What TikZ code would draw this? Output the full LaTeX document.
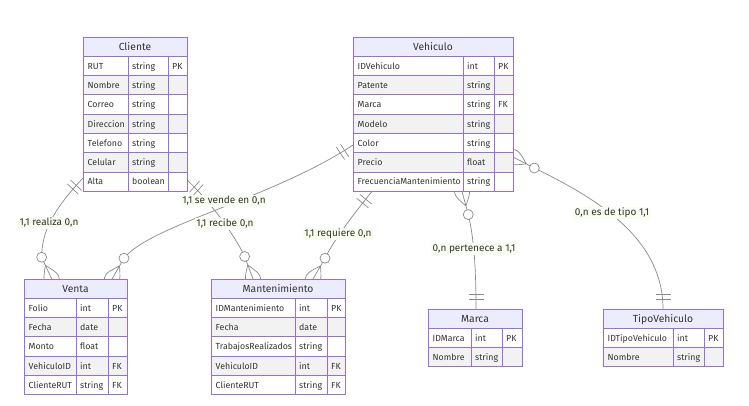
\documentclass[tikz,border=0pt]{standalone}
\usepackage{fontspec}
\setmainfont{Fira Sans}
\usetikzlibrary{calc}

\definecolor{erborder}{HTML}{9370DB}
\definecolor{erhead}{HTML}{ECECFF}
\definecolor{errowevn}{HTML}{F2F2F2}
\definecolor{ertext}{HTML}{333333}
\definecolor{erline}{HTML}{8A8A8A}
\definecolor{erlabel}{HTML}{F8FDEF}

\pgfdeclarelayer{paper}
\pgfdeclarelayer{edges}
\pgfsetlayers{paper,edges,main}

\tikzset{
  entity/.style={draw=none, inner sep=0pt, outer sep=0pt, anchor=north west},
  cell/.style={draw=erborder, line width=0.9pt},
  headtext/.style={text=ertext, font=\fontsize{10.3}{12}\selectfont, inner sep=0pt, anchor=base},
  attrtext/.style={text=ertext, font=\fontsize{8.8}{10}\selectfont, inner sep=0pt, anchor=base west},
  edge/.style={draw=erline, line width=0.7pt},
  rellabel/.style={fill=erlabel, text=ertext, font=\fontsize{10}{12}\selectfont,
    inner sep=1.5pt, text height=7.4pt, text depth=2pt},
}

% entity table: name, four column edges, top, attribute count, title, attributes
\newcommand\erentity[9]{%
  \pgfmathsetmacro\erHt{19.3*(#7+1)}%
  \pgfmathsetmacro\erWd{#5-#2}%
  \node[entity, minimum width=\erWd pt, minimum height=\erHt pt] (#1) at (#2,#6) {};
  \path[cell, fill=erhead] (#2,#6) rectangle (#5,#6+19.3);
  \node[headtext] at ({(#2+#5)/2},#6+13.3) {#8};
  \foreach \fname/\ftype/\fkey [count=\i] in {#9}{%
    \pgfmathsetmacro\ya{#6+19.3*\i}%
    \pgfmathsetmacro\yb{\ya+19.3}%
    \pgfmathsetmacro\ym{\ya+12.8}%
    \ifodd\i \def\rowfill{white}\else \def\rowfill{errowevn}\fi
    \path[cell, fill=\rowfill] (#2,\ya) rectangle (#3,\yb) (#3,\ya) rectangle (#4,\yb)
      (#4,\ya) rectangle (#5,\yb);
    \node[attrtext] at (#2+4.5,\ym) {\fname};
    \node[attrtext] at (#3+4,\ym) {\ftype};
    \node[attrtext] at (#4+4,\ym) {\fkey};
  }
  \draw[cell] (#1.north west) rectangle (#1.south east);
}

% zero-or-more end: point on the entity, angle pointing into it, name of the ring centre
\newcommand\crowfoot[3]{%
  \begin{scope}[shift={#1}, rotate=#2]
    \coordinate (#3) at (-24,0);
    \draw[edge] (-24,0) -- (15,0);
    \draw[edge] (-15,0) .. controls (0,10) .. (15,0) .. controls (0,-10) .. (-15,0);
  \end{scope}}

% exactly-one end: two bars across the line
\newcommand\onlyone[2]{%
  \begin{scope}[shift={#1}, rotate=#2]
    \draw[edge] (-10,-7.5) -- (-10,7.5) (-15,-7.5) -- (-15,7.5);
  \end{scope}}

\begin{document}
\begin{tikzpicture}[x=1pt, y=-1pt]
\begin{pgfonlayer}{paper}
  \fill[white] (0,0) rectangle (749,405);
\end{pgfonlayer}
\useasboundingbox (0,0) rectangle (749,405);

\erentity{cliente}{83}{128}{168}{187}{37}{7}{Cliente}{RUT/string/PK, Nombre/string/{}, Correo/string/{}, Direccion/string/{}, Telefono/string/{}, Celular/string/{}, Alta/boolean/{}}
\erentity{vehiculo}{353}{463}{494}{513}{37}{7}{Vehiculo}{IDVehiculo/int/PK, Patente/string/{}, Marca/string/FK, Modelo/string/{}, Color/string/{}, Precio/float/{}, FrecuenciaMantenimiento/string/{}}
\erentity{venta}{24}{76}{108}{127}{279}{5}{Venta}{Folio/int/PK, Fecha/date/{}, Monto/float/{}, VehiculoID/int/FK, ClienteRUT/string/FK}
\erentity{mantenimiento}{211}{295}{327}{345}{279}{5}{Mantenimiento}{IDMantenimiento/int/PK, Fecha/date/{}, TrabajosRealizados/string/{}, VehiculoID/int/FK, ClienteRUT/string/FK}
\erentity{marca}{428}{471}{502}{522}{309}{2}{Marca}{IDMarca/int/PK, Nombre/string/{}}
\erentity{tipovehiculo}{603}{673}{704}{723}{309}{2}{TipoVehiculo}{IDTipoVehiculo/int/PK, Nombre/string/{}}

% attachment points of the relationships
\coordinate (p1s) at ($(cliente.north west)+(0,141)$);
\coordinate (p3s) at ($(cliente.north east)+(0,143)$);
\coordinate (p2s) at ($(vehiculo.north west)+(0,108)$);
\coordinate (p4s) at ($(vehiculo.south west)+(19,0)$);
\coordinate (p5s) at ($(vehiculo.south west)+(109,0)$);
\coordinate (p6s) at ($(vehiculo.north east)+(0,120)$);
\coordinate (p1t) at ($(venta.north west)+(27.7,0)$);
\coordinate (p2t) at ($(venta.north west)+(88,0)$);
\coordinate (p3t) at ($(mantenimiento.north west)+(42,0)$);
\coordinate (p4t) at ($(mantenimiento.north west)+(102,0)$);
\coordinate (p5t) at ($(marca.north west)+(48,0)$);
\coordinate (p6t) at ($(tipovehiculo.north west)+(60,0)$);

\begin{pgfonlayer}{edges}
  \crowfoot{(p1t)}{-65.2}{c1}
  \crowfoot{(p2t)}{-120}{c2}
  \crowfoot{(p3t)}{-69.6}{c3}
  \crowfoot{(p4t)}{-120}{c4}
  \crowfoot{(p5s)}{105.1}{c5}
  \crowfoot{(p6s)}{152.7}{c6}

  \onlyone{(p1s)}{47}
  \onlyone{(p2s)}{33.5}
  \onlyone{(p3s)}{137.8}
  \onlyone{(p4s)}{51}
  \onlyone{(p5t)}{-90}
  \onlyone{(p6t)}{-90}

  \draw[edge] (p1s) .. controls +(-28,30) and +(0,-27) .. (c1);
  \draw[edge] (p2s) .. controls +(-80,53) and +(26,-33) .. (c2);
  \draw[edge] (p3s) .. controls +(20,18) and +(-10,-22) .. (c3);
  \draw[edge] (p4s) .. controls +(-17,21) and +(10,-20) .. (c4);
  \draw[edge] (c5) .. controls +(6,25) and +(0,-39) .. (p5t);
  \draw[edge] (c6) .. controls +(66,32) and +(0,-69) .. (p6t);

  \foreach \c in {c1,c2,c3,c4,c5,c6}
    \draw[edge, fill=white] (\c) circle[radius=5pt];
\end{pgfonlayer}

\node[rellabel] (l1) at (49,223) {1,1 realiza 0,n};
\node[rellabel] (l2) at (224,201) {1,1 se vende en 0,n};
\node[rellabel] (l3) at (225,224) {1,1 recibe 0,n};
\node[rellabel] (l4) at (338,234) {1,1 requiere 0,n};
\node[rellabel] (l5) at (474,249) {0,n pertenece a 1,1};
\node[rellabel] (l6) at (612,213) {0,n es de tipo 1,1};
\end{tikzpicture}
\end{document}
